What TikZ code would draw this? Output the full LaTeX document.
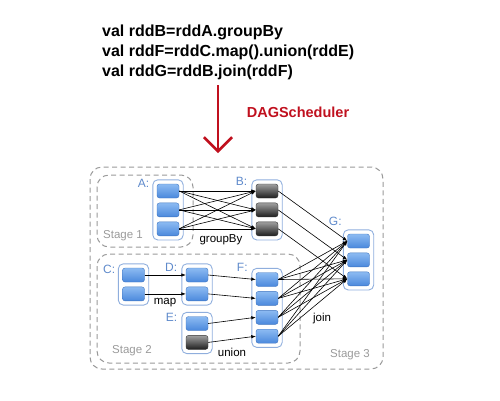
\documentclass[tikz,border=0pt]{standalone}
\usepackage{fontspec}
\setmainfont{Liberation Sans}
\usetikzlibrary {positioning}
\usetikzlibrary {fit}
\usetikzlibrary {arrows.meta}
\definecolor{celltop}{HTML}{8DBBF2}
\definecolor{cellbot}{HTML}{4A88DC}
\definecolor{cellline}{HTML}{3F74C0}
\definecolor{darktop}{HTML}{A0A0A0}
\definecolor{darkbot}{HTML}{1E1E1E}
\definecolor{darkline}{HTML}{333333}
\definecolor{groupline}{HTML}{8FAEDD}
\definecolor{tagblue}{HTML}{5F8ACB}
\definecolor{stagegray}{HTML}{9A9A9A}
\definecolor{schedred}{HTML}{C0101E}

\begin{document}
\begin{tikzpicture}
	[x=1pt,y=-1pt,node distance=4.5pt,
	cell/.style={rectangle,rounded corners=2.5pt,draw=cellline,top color=celltop,bottom color=cellbot,minimum width=22pt,minimum height=14pt,inner sep=0pt},
	dark/.style={cell,draw=darkline,top color=darktop,bottom color=darkbot},
	group/.style={rectangle,rounded corners=5pt,draw=groupline,line width=0.9pt,inner sep=4pt},
	tag/.style={text=tagblue,font=\fontsize{12}{12}\selectfont,inner sep=0pt},
	op/.style={font=\fontsize{11.5}{12}\selectfont,inner sep=0pt},
	stage/.style={text=stagegray,font=\fontsize{11.5}{12}\selectfont,inner sep=0pt},
	stagebox/.style={draw=stagegray,dash pattern=on 5pt off 3.5pt,line width=1pt,rounded corners=12pt},
	flow/.style={-{Latex[length=4.5pt,width=3.5pt]},line width=0.6pt},
	sched/.style={draw=schedred,line width=2.6pt,-{Straight Barb[length=14pt,width=28pt]}},
	code/.style={font=\bfseries\fontsize{16}{20}\selectfont,anchor=base west,inner sep=0pt}]
	\useasboundingbox (0,0) rectangle (500,400);
	% source code
	\node[code] (code1) at (102,36) {val rddB=rddA.groupBy};
	\node[code] (code2) at (102,56) {val rddF=rddC.map().union(rddE)};
	\node[code] (code3) at (102,76) {val rddG=rddB.join(rddF)};
	\coordinate (schedtop) at (218,85);
	\coordinate (schedend) at (218,153);
	\draw[sched] (schedtop) -- (schedend);
	\node[text=schedred,font=\bfseries\fontsize{14.5}{15}\selectfont,inner sep=0pt] (dag) at (298,112) {DAGScheduler};
	% stages
	\draw[stagebox] (90,167) rectangle (383,369);
	\draw[stagebox] (97,175) rectangle (193,247);
	\draw[stagebox] (97,254) rectangle (300,363);
	\node[stage] (stage1) at (123,236) {Stage 1};
	\node[stage] (stage2) at (132,351) {Stage 2};
	\node[stage] (stage3) at (350,355) {Stage 3};
	% rdd A
	\node[cell] (a1) at (168,191) {};
	\node[cell] (a2) [below=of a1] {};
	\node[cell] (a3) [below=of a2] {};
	\node[group,fit=(a1)(a3)] (A) {};
	\node[tag] (Atag) [below left=0pt and 3pt of A.north west] {A:};
	% rdd B
	\node[dark] (b1) at (267,191) {};
	\node[dark] (b2) [below=of b1] {};
	\node[dark] (b3) [below=of b2] {};
	\node[group,fit=(b1)(b3)] (B) {};
	\node[tag] (Btag) [below left=-2pt and 4pt of B.north west] {B:};
	% rdd C
	\node[cell] (c1) at (133.5,275) {};
	\node[cell] (c2) [below=of c1] {};
	\node[group,fit=(c1)(c2)] (C) {};
	\node[tag] (Ctag) [below left=1.5pt and 2.5pt of C.north west] {C:};
	% rdd D
	\node[cell] (d1) at (197,275) {};
	\node[cell] (d2) [below=of d1] {};
	\node[group,fit=(d1)(d2)] (D) {};
	\node[tag] (Dtag) [below left=0pt and 4pt of D.north west] {D:};
	% rdd E
	\node[cell] (e1) at (197,323.5) {};
	\node[dark] (e2) [below=of e1] {};
	\node[group,fit=(e1)(e2)] (E) {};
	\node[tag] (Etag) [below left=1pt and 4pt of E.north west] {E:};
	% rdd F
	\node[cell] (f1) at (267,279.5) {};
	\node[cell] (f2) [below=of f1] {};
	\node[cell] (f3) [below=of f2] {};
	\node[cell] (f4) [below=of f3] {};
	\node[group,fit=(f1)(f4)] (F) {};
	\node[tag] (Ftag) [left=3.5pt of F.north west] {F:};
	% rdd G
	\node[cell] (g1) at (358.5,241) {};
	\node[cell] (g2) [below=of g1] {};
	\node[cell] (g3) [below=of g2] {};
	\node[group,fit=(g1)(g3)] (G) {};
	\node[tag] (Gtag) [above left=4pt and 1pt of G.north west] {G:};
	% operations
	\node[op] (groupby) at (221,240) {groupBy};
	\node[op] (map) at (165,303) {map};
	\node[op] (union) at (232,352) {union};
	\node[op] (join) at (322,319) {join};
	% dependencies
	\foreach \i in {1,2,3}
		\foreach \j in {1,2,3}
			\draw [flow] (a\i.east) -- (b\j.west);
	\foreach \i in {1,2,3}
		\draw [flow] (b\i.east) -- (g\i.west);
	\draw [flow] (c1.east) -- (d1.west);
	\draw [flow] (c2.east) -- (d2.west);
	\draw [flow] (d1.east) -- (f1.west);
	\draw [flow] (d2.east) -- (f2.west);
	\draw [flow] (e1.east) -- (f3.west);
	\draw [flow] (e2.east) -- (f4.west);
	\foreach \i in {1,...,4}
		\foreach \j in {1,2,3}
			\draw [flow] (f\i.east) -- (g\j.west);
\end{tikzpicture}
\end{document}
